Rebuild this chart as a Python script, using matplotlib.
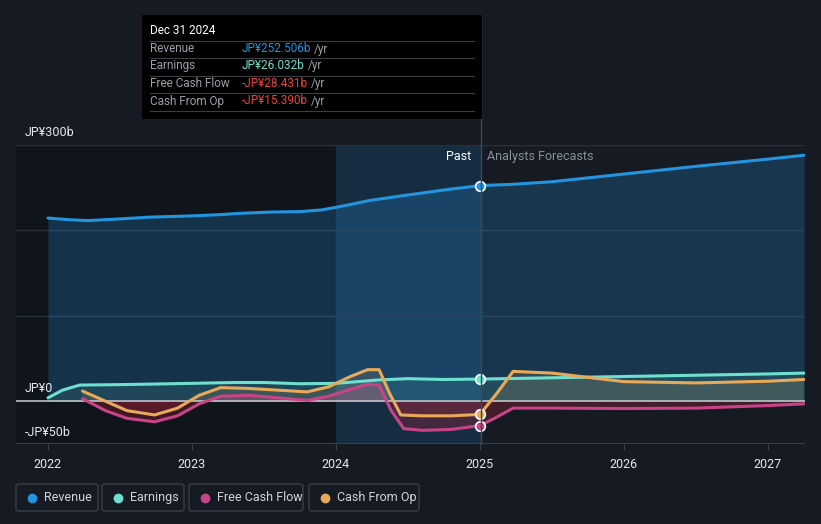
import matplotlib.pyplot as plt
from matplotlib.patches import Rectangle, FancyBboxPatch
from matplotlib.lines import Line2D

plt.rcParams['font.family'] = ['Roboto', 'DejaVu Sans']

# data (JP¥ billions)
rev_x = [2022.0, 2022.15, 2022.28, 2022.5, 2022.7, 2023.0, 2023.2, 2023.33, 2023.55, 2023.75, 2023.9,
         2024.0, 2024.12, 2024.23, 2024.5, 2024.78, 2025.0]
rev_y = [214.5, 212.5, 211.5, 213.5, 215.5, 217, 218.5, 220, 221.5, 222, 224,
         227, 231, 235, 241.5, 248, 252.5]
rev_fx = [2025.0, 2025.23, 2025.5, 2026.0, 2026.5, 2027.0, 2027.25]
rev_fy = [252.5, 254, 257, 266, 275, 283.5, 288]

earn_x = [2022.0, 2022.1, 2022.22, 2022.5, 2023.0, 2023.3, 2023.5, 2023.75, 2024.0, 2024.3, 2024.5,
          2024.75, 2025.0]
earn_y = [4, 13, 19, 19.5, 21, 22, 22, 20.5, 21, 25, 26.5, 25.5, 26.0]
earn_fx = [2025.0, 2025.5, 2026.0, 2026.5, 2027.0, 2027.25]
earn_fy = [26.0, 27.5, 29, 30.5, 32, 33]

fcf_x = [2022.24, 2022.4, 2022.55, 2022.74, 2022.9, 2023.05, 2023.2, 2023.4, 2023.6, 2023.8, 2023.95,
         2024.1, 2024.22, 2024.3, 2024.38, 2024.47, 2024.6, 2024.8, 2025.0]
fcf_y = [3, -11, -20, -24, -17, -3, 6, 7, 4, 1, 6, 14, 20, 19, -10, -32, -34, -33, -28.4]
fcf_fx = [2025.0, 2025.1, 2025.23, 2025.5, 2026.0, 2026.5, 2027.0, 2027.25]
fcf_fy = [-28.4, -20, -8, -8, -8.5, -8, -5, -3]

cfo_x = [2022.24, 2022.4, 2022.55, 2022.74, 2022.9, 2023.05, 2023.2, 2023.4, 2023.6, 2023.8, 2023.95,
         2024.1, 2024.22, 2024.3, 2024.37, 2024.45, 2024.6, 2024.8, 2025.0]
cfo_y = [12, 0, -11, -16, -8, 7, 16, 15, 13, 11, 17, 29, 37, 37, 10, -16, -17, -17, -15.4]
cfo_fx = [2025.0, 2025.12, 2025.23, 2025.5, 2025.8, 2026.0, 2026.5, 2027.0, 2027.25]
cfo_fy = [-15.4, 10, 35, 33, 27, 23, 21.5, 23.5, 25.5]

years = [2022, 2023, 2024, 2025, 2026, 2027]

BG = '#151a23'
BLUE = '#2394df'
TEAL = '#6fe0cf'
PINK = '#c84388'
ORANGE = '#e8aa59'

W, H = 821, 524
fig = plt.figure(figsize=(W / 100, H / 100), dpi=100, facecolor=BG)


def fx(px):
    return px / W


def fy(py):
    return 1 - py / H


ax = fig.add_axes([fx(16), fy(444), fx(805) - fx(16), fy(145) - fy(444)])
ax.set_facecolor(BG)
ax.set_xlim(2021.778, 2027.257)
ax.set_ylim(-50, 300)

# background bands
ax.axvspan(2021.778, 2024.0, color='#10141b', zorder=0)
ax.axvspan(2024.0, 2025.0, color='#17344e', alpha=0.7, zorder=0)

for g in [100, 200, 300]:
    ax.axhline(g, color='#2a3039', lw=1, zorder=1)
ax.axhline(0, color='#c9ccd2', lw=1.1, zorder=4)
ax.axhline(-50, color='#3a404a', lw=1.5, zorder=4)

kw = dict(lw=2.2, solid_capstyle='round', solid_joinstyle='round')

# revenue
ax.fill_between(rev_x + rev_fx[1:], 0, rev_y + rev_fy[1:], color=BLUE, alpha=0.24, lw=0, zorder=2)
ax.plot(rev_x + rev_fx[1:], rev_y + rev_fy[1:], color=BLUE, zorder=5, **kw)

# earnings
ax.fill_between(earn_x + earn_fx[1:], 0, earn_y + earn_fy[1:], color=TEAL, alpha=0.12, lw=0, zorder=2)
ax.plot(earn_x + earn_fx[1:], earn_y + earn_fy[1:], color=TEAL, zorder=5, **kw)

# cash flows
fx_all = fcf_x + fcf_fx[1:]
fy_all = fcf_y + fcf_fy[1:]
ax.fill_between(fx_all, 0, fy_all, where=[v < 0 for v in fy_all], interpolate=True,
                color='#b0243a', alpha=0.3, lw=0, zorder=2)
ax.fill_between(fx_all, 0, fy_all, where=[v >= 0 for v in fy_all], interpolate=True,
                color=PINK, alpha=0.25, lw=0, zorder=2)
ax.plot(fx_all, fy_all, color=PINK, zorder=6, **kw)

cx_all = cfo_x + cfo_fx[1:]
cy_all = cfo_y + cfo_fy[1:]
ax.fill_between(cx_all, 0, cy_all, where=[v < 0 for v in cy_all], interpolate=True,
                color='#b0243a', alpha=0.2, lw=0, zorder=2)
ax.fill_between(cx_all, 0, cy_all, where=[v >= 0 for v in cy_all], interpolate=True,
                color=ORANGE, alpha=0.15, lw=0, zorder=2)
ax.plot(cx_all, cy_all, color=ORANGE, zorder=6, **kw)

# markers at Dec 31 2024
for yv, c in [(rev_y[-1], BLUE), (earn_y[-1], TEAL), (fcf_y[-1], PINK), (cfo_y[-1], ORANGE)]:
    ax.plot([2025.0], [yv], 'o', ms=7, mfc=c, mec='white', mew=1.2, zorder=8)

ax.set_xticks(years)
ax.set_xticklabels([str(y) for y in years], color='#e6e8eb', fontsize=9)
ax.tick_params(axis='x', length=4, color='#3a404a', pad=6)
ax.set_yticks([])
for s in ax.spines.values():
    s.set_visible(False)

ax.text(2024.94, 287, 'Past', color='white', fontsize=9, ha='right', va='center', zorder=9)
ax.text(2025.05, 287, 'Analysts Forecasts', color='#8a9099', fontsize=9, ha='left', va='center', zorder=9)

# y labels
fig.text(fx(25), fy(132), 'JP¥300b', color='#e6e8eb', fontsize=9, va='center')
fig.text(fx(25), fy(388), 'JP¥0', color='#e6e8eb', fontsize=9, va='center')
fig.text(fx(25), fy(432), '-JP¥50b', color='#e6e8eb', fontsize=9, va='center')

# vertical line at the tooltip date
fig.add_artist(Line2D([fx(481), fx(481)], [fy(15), fy(444)], color='#3b4a5a', lw=1, zorder=3))

# tooltip
fig.add_artist(Rectangle((fx(142), fy(119)), fx(482) - fx(142), fy(15) - fy(119),
                         facecolor='black', edgecolor='none', zorder=10))
fig.text(fx(150), fy(31), 'Dec 31 2024', color='white', fontsize=8.5, va='center', zorder=11)
rows = [('Revenue', 'JP¥252.506b', BLUE), ('Earnings', 'JP¥26.032b', TEAL),
        ('Free Cash Flow', '-JP¥28.431b', '#f0413f'), ('Cash From Op', '-JP¥15.390b', '#f0413f')]
row_y = [49, 66, 84, 101]
for py in [41, 58, 76, 93, 111]:
    fig.add_artist(Line2D([fx(150), fx(474)], [fy(py), fy(py)], color='#3a3d42', lw=0.8, zorder=11))
for (lab, val, c), py in zip(rows, row_y):
    fig.text(fx(150), fy(py), lab, color='#9aa0a8', fontsize=8.5, va='center', zorder=11)
    t = fig.text(fx(242), fy(py), val, color=c, fontsize=8.5, va='center', zorder=11)
    fig.canvas.draw()
    bb = t.get_window_extent()
    fig.text(bb.x1 / W + fx(3), fy(py), '/yr', color='#9aa0a8', fontsize=8.5, va='center', zorder=11)

# legend
legend = [('Revenue', BLUE, 16, 98), ('Earnings', TEAL, 102, 184),
          ('Free Cash Flow', PINK, 189, 303), ('Cash From Op', ORANGE, 309, 419)]
for lab, c, x0, x1 in legend:
    fig.add_artist(FancyBboxPatch((fx(x0), fy(511)), fx(x1) - fx(x0), fy(484) - fy(511),
                                  boxstyle='round,pad=0,rounding_size=0.004',
                                  facecolor='none', edgecolor='#3a404a', lw=1))
    fig.add_artist(Line2D([fx(x0 + 16)], [fy(497.5)], marker='o', ms=6, color=c, lw=0))
    fig.text(fx(x0 + 28), fy(497.5), lab, color='#d0d3d8', fontsize=9, va='center')

fig.savefig('out.png', dpi=100, facecolor=BG)
